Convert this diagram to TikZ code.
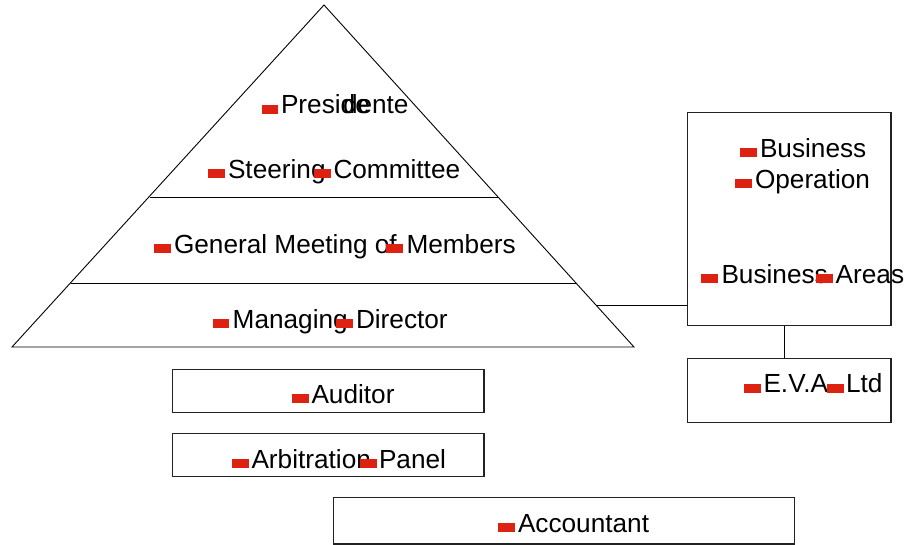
\documentclass[tikz,border=0pt]{standalone}
\usepackage{fontspec}
\setmainfont{Liberation Sans}
\definecolor{bulred}{HTML}{DD2211}
\definecolor{edge}{HTML}{222222}
\begin{document}
\begin{tikzpicture}[x=1pt,y=-1pt,
  txt/.style={anchor=base west,inner sep=0pt,outer sep=0pt,font=\fontsize{26.2}{30}\selectfont},
  bul/.style={anchor=south west,fill=bulred,inner sep=0pt,outer sep=0pt,minimum width=16.5pt,minimum height=9pt},
  box/.style={draw=edge,line width=1.1pt,anchor=north west,inner sep=0pt,outer sep=0pt},
  ln/.style={draw=black,line width=0.9pt}]
\useasboundingbox (0,0) rectangle (922,545);
% pyramid
\coordinate (apex) at (324,5);
\coordinate (bl) at (12,347);
\coordinate (br) at (634,347);
\draw[ln] (apex) -- (bl) -- (br) -- cycle;
\draw[ln] (149.5,197) -- (498.5,197);
\draw[ln] (70.5,283) -- (576.5,283);
% boxes
\node[box,minimum width=203.7pt,minimum height=213.4pt] (biz) at (687.3,112.3) {};
\node[box,minimum width=203.7pt,minimum height=64.4pt] (eva) at (687.3,358.3) {};
\node[box,minimum width=311.3pt,minimum height=43pt] (aud) at (172.7,369.3) {};
\node[box,minimum width=311.3pt,minimum height=43pt] (arb) at (172.7,433.3) {};
\node[box,minimum width=461pt,minimum height=46.7pt] (acc) at (333.3,497.3) {};
% connectors
\coordinate (pyrR) at (596,305);
\draw[ln] (pyrR) -- (biz.west |- pyrR);
\coordinate (vx) at (784,0);
\draw[ln] (biz.south -| vx) -- (eva.north -| vx);
% texts
\node[bul] (b1) at (261.5,114) {};
\node[txt] (t1a) at (281,114) {Preside};
\node[txt] (t1b) at (343,114) {dente};
\node[bul] (b2) at (208,178.5) {};
\node[txt] (t2a) at (228,178.5) {Steering};
\node[bul] (b3) at (314,178.5) {};
\node[txt] (t2b) at (333.5,178.5) {Committee};
\node[bul] (b4) at (154,253.3) {};
\node[txt] (t3a) at (174,253.3) {General Meeting of};
\node[bul] (b5) at (386,253.3) {};
\node[txt] (t3b) at (406.5,253.3) {Members};
\node[bul] (b6) at (212.7,328.3) {};
\node[txt] (t4a) at (232.7,328.3) {Managing};
\node[bul] (b7) at (336,328.3) {};
\node[txt] (t4b) at (356,328.3) {Director};
\node[bul] (b8) at (292,403.3) {};
\node[txt] (t5) at (311.5,403.3) {Auditor};
\node[bul] (b9) at (232,468.3) {};
\node[txt] (t6a) at (251.5,468.3) {Arbitration};
\node[bul] (b10) at (360,468.3) {};
\node[txt] (t6b) at (379,468.3) {Panel};
\node[bul] (b11) at (498,532.3) {};
\node[txt] (t7) at (518,532.3) {Accountant};
\node[bul] (b12) at (740,157.3) {};
\node[txt] (t8) at (760,157.3) {Business};
\node[bul] (b13) at (735,188.3) {};
\node[txt] (t9) at (755,188.3) {Operation};
\node[bul] (b14) at (701,283.3) {};
\node[txt] (t10a) at (721.5,283.3) {Business};
\node[bul] (b15) at (816,283.3) {};
\node[txt] (t10b) at (835.7,283.3) {Areas};
\node[bul] (b16) at (744,392.7) {};
\node[txt] (t11a) at (763.5,392.7) {E.V.A};
\node[bul] (b17) at (827,392.7) {};
\node[txt] (t11b) at (846,392.7) {Ltd};
\end{tikzpicture}
\end{document}
